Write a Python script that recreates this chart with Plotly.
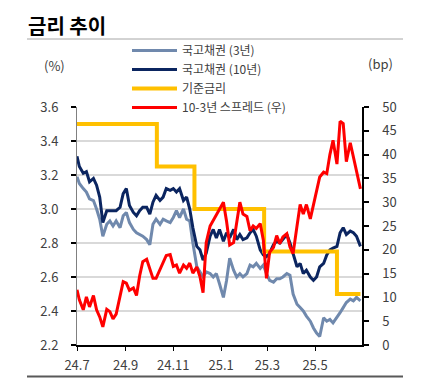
import plotly.graph_objects as go

dates = [
    "2024-07-01", "2024-07-04", "2024-07-09", "2024-07-13", "2024-07-17", "2024-07-22", "2024-07-26", "2024-07-30",
    "2024-08-03", "2024-08-08", "2024-08-12", "2024-08-16", "2024-08-20", "2024-08-25", "2024-08-29",
    "2024-09-02", "2024-09-06", "2024-09-11", "2024-09-15", "2024-09-19", "2024-09-23", "2024-09-28",
    "2024-10-02", "2024-10-06", "2024-10-10", "2024-10-15", "2024-10-19", "2024-10-23", "2024-10-28",
    "2024-11-01", "2024-11-05", "2024-11-09", "2024-11-14", "2024-11-18", "2024-11-22", "2024-11-26",
    "2024-12-01", "2024-12-05", "2024-12-09", "2024-12-13", "2024-12-18", "2024-12-22", "2024-12-26", "2024-12-30",
    "2025-01-04", "2025-01-08", "2025-01-12", "2025-01-17", "2025-01-21", "2025-01-25", "2025-01-29",
    "2025-02-03", "2025-02-07", "2025-02-11", "2025-02-15", "2025-02-20", "2025-02-24", "2025-02-28",
    "2025-03-04", "2025-03-09", "2025-03-13", "2025-03-17", "2025-03-21", "2025-03-26", "2025-03-30",
    "2025-04-03", "2025-04-08", "2025-04-12", "2025-04-16", "2025-04-20", "2025-04-25", "2025-04-29",
    "2025-05-03", "2025-05-07", "2025-05-12", "2025-05-16", "2025-05-20", "2025-05-24", "2025-05-29",
    "2025-06-02", "2025-06-06", "2025-06-10", "2025-06-15", "2025-06-19", "2025-06-23", "2025-06-28",
]

ktb3 = [
    3.19, 3.15, 3.12, 3.10, 3.06, 3.05, 3.00, 2.94, 2.84, 2.91, 2.93, 2.90, 2.93, 2.89, 2.96,
    2.98, 2.92, 2.88, 2.86, 2.85, 2.84, 2.82, 2.79, 2.91, 2.94, 2.91, 2.94, 2.93, 2.92, 2.95,
    2.99, 2.95, 3.00, 2.94, 2.93, 2.80, 2.66, 2.63, 2.60, 2.63, 2.62, 2.60, 2.62, 2.56, 2.48,
    2.58, 2.71, 2.64, 2.60, 2.62, 2.60, 2.62, 2.67, 2.66, 2.68, 2.65, 2.67, 2.62, 2.58,
    2.57, 2.59, 2.59, 2.60, 2.62, 2.61, 2.50, 2.44, 2.42, 2.40, 2.37, 2.34, 2.30, 2.27,
    2.25, 2.36, 2.34, 2.35, 2.33, 2.36, 2.39, 2.42, 2.45, 2.47, 2.46, 2.48, 2.46,
]

ktb10 = [
    3.31, 3.25, 3.21, 3.22, 3.16, 3.18, 3.14, 3.07, 2.92, 2.99, 2.99, 2.99, 2.99, 3.01, 3.09,
    3.12, 3.02, 2.98, 2.96, 2.99, 3.01, 3.01, 2.97, 3.04, 3.08, 3.05, 3.07, 3.12, 3.11, 3.12,
    3.10, 3.12, 3.05, 3.07, 3.00, 2.89, 2.78, 2.76, 2.70, 2.74, 2.84, 2.88, 2.83, 2.88, 2.81,
    2.86, 2.83, 2.88, 2.82, 2.85, 2.82, 2.83, 2.86, 2.88, 2.84, 2.76, 2.73, 2.72, 2.74,
    2.79, 2.81, 2.80, 2.82, 2.85, 2.80, 2.74, 2.66, 2.68, 2.62, 2.64, 2.60, 2.58, 2.60,
    2.66, 2.68, 2.73, 2.76, 2.77, 2.78, 2.86, 2.89, 2.85, 2.87, 2.86, 2.84, 2.78,
]

spread = [
    11.6, 9.5, 7.4, 10.1, 8.0, 10.4, 7.4, 5.9, 3.8, 7.5, 7.0, 5.5, 6.5, 10.5, 13.3,
    13.0, 11.5, 12.0, 10.4, 14.5, 17.5, 18.0, 16.0, 14.0, 14.0, 15.8, 17.0, 18.8, 19.0, 16.5,
    16.8, 15.1, 16.8, 16.1, 17.2, 15.1, 16.4, 14.4, 11.0, 21.5, 25.0, 26.2, 27.5, 28.5, 30.0,
    26.0, 21.0, 21.5, 26.0, 30.0, 27.5, 27.0, 24.0, 25.0, 24.5, 25.5, 22.0, 14.0, 19.5,
    20.5, 23.0, 21.3, 22.7, 23.4, 20.6, 19.2, 25.0, 29.5, 27.5, 29.5, 26.5, 29.5, 32.5,
    35.3, 36.3, 36.0, 40.0, 43.0, 38.0, 47.0, 46.5, 38.5, 42.5, 39.5, 36.0, 32.8,
]

base_dates = ["2024-07-01", "2024-10-11", "2024-11-28", "2025-02-25", "2025-05-29", "2025-06-28"]
base_rate = [3.50, 3.25, 3.00, 2.75, 2.50, 2.50]

tick_dates = ["2024-07-01", "2024-09-01", "2024-11-01", "2025-01-01", "2025-03-01", "2025-05-01"]
tick_text = ["24.7", "24.9", "24.11", "25.1", "25.3", "25.5"]

names = ["국고채권 (3년)", "국고채권 (10년)", "기준금리", "10-3년 스프레드 (우)"]

FONT = "Noto Sans CJK KR"
TXT = "#404040"

fig = go.Figure()
fig.add_trace(go.Scatter(x=dates, y=ktb3, name=names[0], mode="lines",
                         line=dict(color="#7089ad", width=3)))
fig.add_trace(go.Scatter(x=dates, y=ktb10, name=names[1], mode="lines",
                         line=dict(color="#0b2560", width=3)))
fig.add_trace(go.Scatter(x=base_dates, y=base_rate, name=names[2], mode="lines",
                         line=dict(color="#ffc000", width=4, shape="hv")))
fig.add_trace(go.Scatter(x=dates, y=spread, name=names[3], mode="lines", yaxis="y2",
                         line=dict(color="#ff0000", width=3)))

# the page body adds an 8px offset; build the figure 8px smaller and shift
OFF = 8
W, H = 435 - OFF, 379 - OFF
PL, PR, PT, PB = 77, 362, 107, 345          # plot box in window pixels
L, T = PL - OFF, PT - OFF
R, B = W - (PR - OFF), H - (PB - OFF)
pw, ph = W - L - R, H - T - B


def px(xp):
    return (xp - OFF - L) / pw


def py(yp):
    return (H - B - (yp - OFF)) / ph


fig.update_layout(
    width=W, height=H,
    margin=dict(l=L, r=R, t=T, b=B, autoexpand=False),
    paper_bgcolor="white", plot_bgcolor="white",
    font=dict(family=FONT, size=13, color=TXT),
    showlegend=True,
    legend=dict(x=px(127), y=py(36), xanchor="left", yanchor="top",
                bgcolor="rgba(0,0,0,0)", borderwidth=0,
                font=dict(family=FONT, size=12, color=TXT),
                tracegroupgap=0, itemwidth=45),
    xaxis=dict(type="date", range=["2024-07-01", "2025-06-30"],
               tickvals=tick_dates, ticktext=tick_text,
               showgrid=False, showline=True, linecolor="black", linewidth=1.5,
               ticks="outside", ticklen=4, tickcolor="black", tickwidth=1,
               ticklabelstandoff=4,
               tickfont=dict(family=FONT, size=13, color=TXT)),
    yaxis=dict(range=[2.2, 3.6], dtick=0.2, tick0=2.2, tickformat=".1f",
               showgrid=True, gridcolor="#d9d9d9", gridwidth=2,
               showline=True, linecolor="#808080", linewidth=1,
               ticks="outside", ticklen=5, tickcolor="black", tickwidth=1.5,
               ticklabelstandoff=10, zeroline=False,
               tickfont=dict(family=FONT, size=13, color=TXT)),
    yaxis2=dict(range=[0, 50], dtick=5, tick0=0, overlaying="y", side="right",
                showgrid=False, showline=True, linecolor="black", linewidth=1.5,
                ticks="outside", ticklen=5, tickcolor="black", tickwidth=1.5,
                ticklabelstandoff=11, zeroline=False,
                tickfont=dict(family=FONT, size=13, color=TXT)),
    yaxis3=dict(range=[2.2, 3.6], dtick=0.2, tick0=2.2, overlaying="y", side="left",
                anchor="x", showgrid=False, showline=False, zeroline=False,
                ticks="inside", ticklen=4, tickcolor="black", tickwidth=1.5,
                showticklabels=False),
    yaxis4=dict(range=[0, 50], dtick=5, tick0=0, overlaying="y", side="right",
                anchor="x", showgrid=False, showline=False, zeroline=False,
                ticks="inside", ticklen=4, tickcolor="black", tickwidth=1.5,
                showticklabels=False),
)

fig.add_annotation(text="<b>금리 추이</b>", xref="paper", yref="paper",
                   x=px(26), y=py(9), xanchor="left", yanchor="top",
                   showarrow=False, font=dict(family=FONT, size=20, color="black"))
fig.add_annotation(text="(%)", xref="paper", yref="paper",
                   x=px(54), y=py(66), xanchor="center", yanchor="middle",
                   showarrow=False, font=dict(family=FONT, size=13, color=TXT))
fig.add_annotation(text="(bp)", xref="paper", yref="paper",
                   x=px(380), y=py(64), xanchor="center", yanchor="middle",
                   showarrow=False, font=dict(family=FONT, size=13, color=TXT))

fig.add_shape(type="line", xref="paper", yref="paper",
              x0=px(27), x1=px(403), y0=py(39), y1=py(39),
              line=dict(color="#a6a6a6", width=1))
fig.add_shape(type="line", xref="paper", yref="paper",
              x0=px(27), x1=px(403), y0=py(376.5), y1=py(376.5),
              line=dict(color="#595959", width=2))

fig.write_html("out.html")
